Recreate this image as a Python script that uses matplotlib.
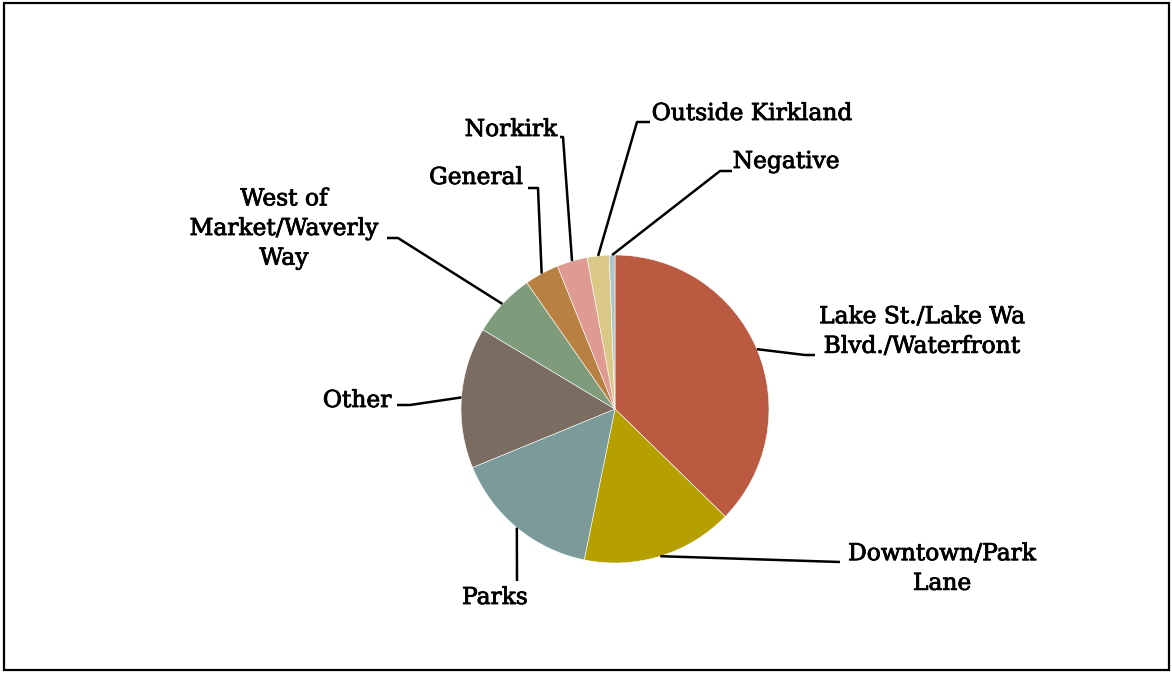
import matplotlib.pyplot as plt
import matplotlib.patheffects as pe
from matplotlib.patches import Rectangle
import numpy as np

# slice data, clockwise from 12 o'clock
labels = ["Lake St./Lake Wa\nBlvd./Waterfront", "Downtown/Park\nLane", "Parks", "Other",
          "West of\nMarket/Waverly\nWay", "General", "Norkirk", "Outside Kirkland", "Negative"]
shares = [37.3, 15.9, 15.6, 14.8, 6.7, 3.6, 3.2, 2.3, 0.6]
colors = ["#BA5A41", "#B5A000", "#7B9B9B", "#7A6C60", "#7E9B7C",
          "#B98141", "#DF9A92", "#DAC886", "#AEC4CB"]

W, H = 1172, 673
CX, CY, R = 615, 409, 154

# label placement in pixel coords: text centre, elbow, line end
label_pos = [
    ((922, 332), (805, 355), (815, 355)),
    ((942, 569), (840, 562), (840, 562)),
    ((495, 598), (517, 581), (517, 581)),
    ((357, 401), (410, 405), (397, 405)),
    ((284, 229), (398, 238), (387, 238)),
    ((476, 178), (538, 188), (528, 188)),
    ((511, 130), (563, 137), (560, 137)),
    ((752, 114), (637, 122), (650, 122)),
    ((786, 162), (720, 171), (732, 171)),
]

def P(px, py):
    return px, H - py

fig = plt.figure(figsize=(W / 100, H / 100), dpi=100)
ax = fig.add_axes([0, 0, 1, 1])

wedges, _ = ax.pie(shares, colors=colors, startangle=90, counterclock=False,
                   center=P(CX, CY), radius=R, frame=True,
                   wedgeprops=dict(edgecolor="white", linewidth=0.4))
ax.set_xlim(0, W)
ax.set_ylim(0, H)
ax.axis("off")

for w, lab, (tc, elbow, end) in zip(wedges, labels, label_pos):
    mid = np.deg2rad((w.theta1 + w.theta2) / 2)
    sx = CX + R * np.cos(mid)
    sy = CY - R * np.sin(mid)
    xs = [sx, elbow[0], end[0]]
    ys = [sy, elbow[1], end[1]]
    ax.plot(xs, [H - y for y in ys], color="black", lw=1.8, solid_capstyle="butt")
    ax.text(*P(*tc), lab, ha="center", va="center", multialignment="center",
            fontsize=16.8, family="DejaVu Serif", color="black", linespacing=1.45,
            path_effects=[pe.withStroke(linewidth=0.6, foreground="black")])

fig.patches.append(Rectangle((4 / W, 3 / H), 1165 / W, 667 / H, transform=fig.transFigure,
                             fill=False, edgecolor="black", linewidth=1.6))

fig.savefig("out.png", dpi=100)
